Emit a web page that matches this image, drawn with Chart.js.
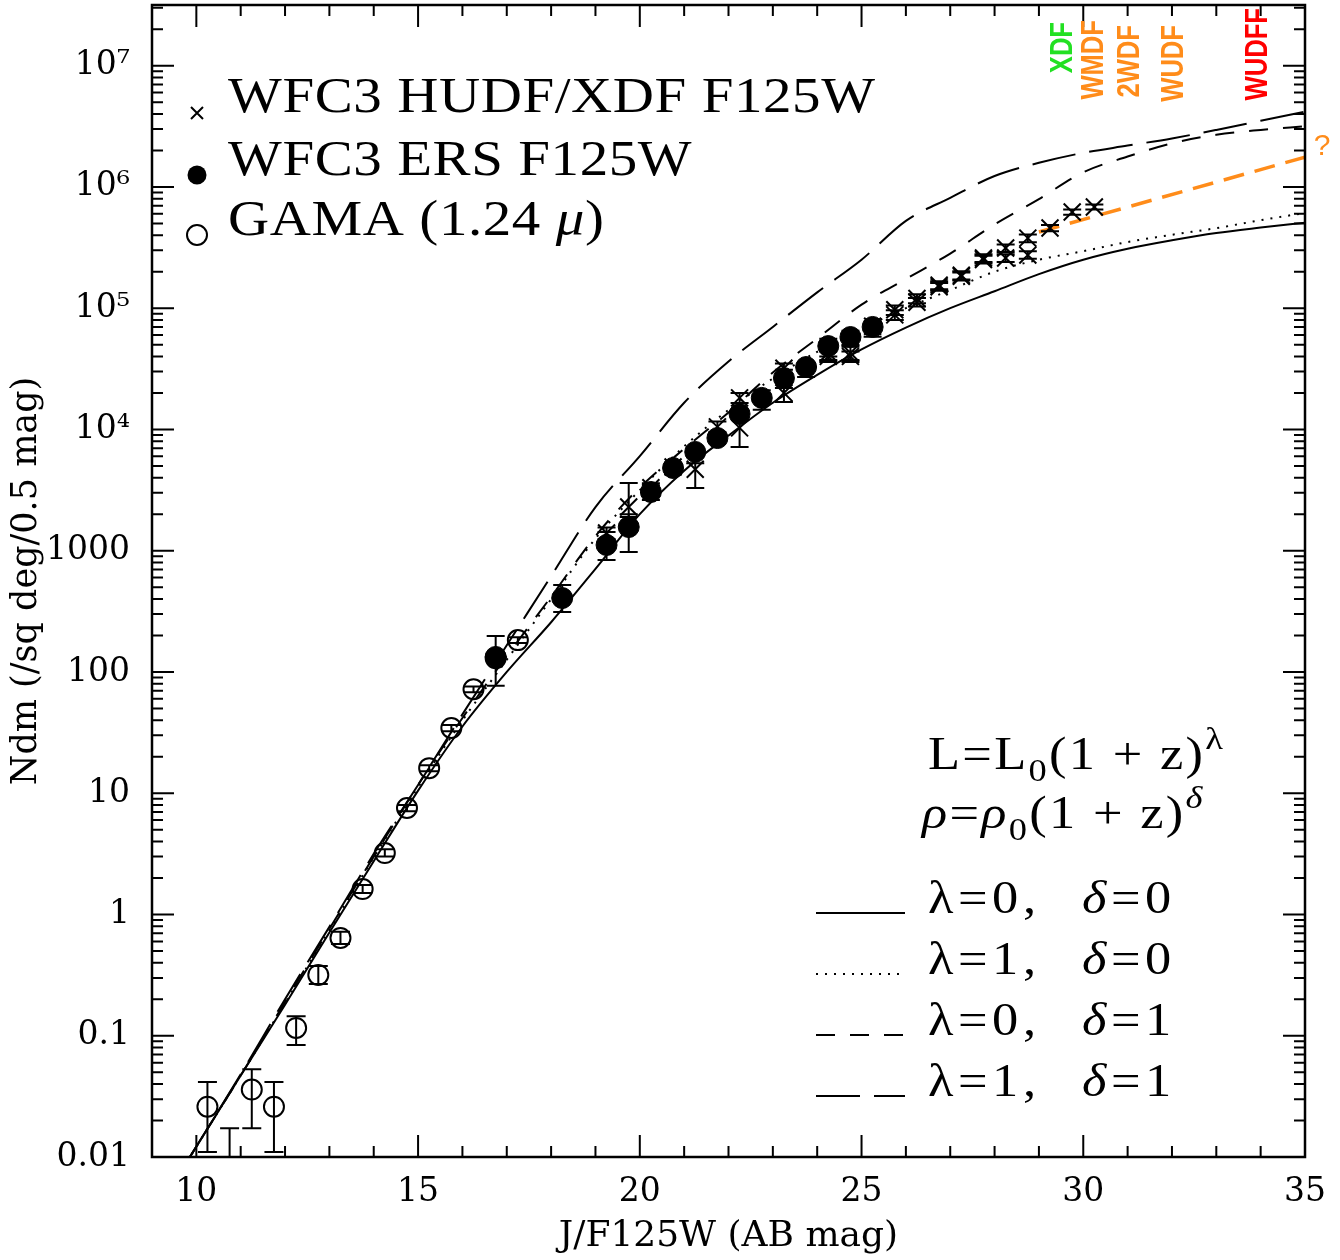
<!DOCTYPE html>
<html lang="en">
<head>
<meta charset="utf-8" />
<title>Galaxy counts in J / F125W</title>
<style>
  * { margin: 0; padding: 0; }
  body { background: #fff; }
  .chartBox { width: 1340px; height: 1260px; }
</style>
</head>
<body>
<div class="chartBox"><canvas id="countsChart" width="1340" height="1260"></canvas></div>

<script src="https://cdn.jsdelivr.net/npm/chart.js"></script>
<script>
// ---- data ----
// GAMA (1.24 micron), open circles
const gamaMag = [10.25, 10.75, 11.25, 11.75, 12.25, 12.75, 13.25, 13.75, 14.25, 14.75, 15.25, 15.75, 16.25, 16.75, 17.25];
const gamaN   = [0.026, 0.004, 0.036, 0.026, 0.116, 0.317, 0.64, 1.62, 3.21, 7.55, 16.1, 34.5, 72, 130, 183];
const gamaLo  = [0.011, 0.001, 0.0173, 0.011, 0.084, 0.267, 0.57, 1.5, 3.0, 7.1, 15.2, 32.5, 68, 122, 173];
const gamaHi  = [0.0415, 0.0173, 0.053, 0.0415, 0.145, 0.376, 0.72, 1.75, 3.45, 8.0, 17.0, 36.5, 76, 138, 193];

// WFC3 ERS F125W, filled circles
const ersMag = [16.75, 18.25, 19.25, 19.75, 20.25, 20.75, 21.25, 21.75, 22.25, 22.75, 23.25, 23.75, 24.25, 24.75, 25.25];
const ersN   = [133, 407, 1114, 1567, 3050, 4810, 6520, 8490, 13400, 18200, 26500, 32700, 48700, 57800, 70000];
const ersLo  = [77, 312, 838, 975, 2620, 4300, 5900, 7700, 12200, 14500, 22000, 27000, 40000, 50000, 58000];
const ersHi  = [198, 521, 1425, 2000, 3470, 5300, 7200, 9300, 14700, 21000, 31000, 36000, 56000, 65000, 78000];

// WFC3 HUDF / XDF F125W, crosses (two fields)
const hudfMag = [19.25, 19.75, 20.25, 20.75, 21.25, 21.75, 22.25, 23.25, 24.25, 24.75, 25.25, 25.75, 26.25, 26.75, 27.25, 27.75, 28.25, 28.75, 29.25, 29.75, 30.25];
const hudfN   = [1400, 2290, 3300, 4900, 4700, 10500, 18200, 32000, 42700, 42700, 71000, 97000, 120000, 155000, 187000, 259000, 313000, 378000, 458000, 621000, 682000];
const hudfLo  = [1250, 1900, 3000, 4500, 3290, 9500, 16500, 29000, 37300, 37300, 65000, 88000, 110000, 143000, 172000, 240000, 290000, 350000, 430000, 590000, 650000];
const hudfHi  = [1550, 3610, 3600, 5300, 5250, 11600, 20000, 35000, 48000, 48000, 77000, 105000, 130000, 167000, 202000, 278000, 335000, 405000, 485000, 652000, 715000];

const xdfMag = [22.25, 23.25, 24.25, 24.75, 25.75, 26.25, 26.75, 27.25, 27.75, 28.25, 28.75];
const xdfN   = [10300, 20000, 40000, 40000, 88000, 112000, 150000, 183000, 252000, 259000, 274000];
const xdfLo  = [7160, 16800, 36000, 36000, 80000, 103000, 139000, 169000, 233000, 240000, 255000];
const xdfHi  = [14500, 24000, 44000, 44000, 96000, 121000, 161000, 197000, 271000, 278000, 295000];

// model counts: L = L0 (1+z)^lambda, rho = rho0 (1+z)^delta
const modelMag = [9.8, 11, 12, 13, 14, 15, 16, 17, 18, 19, 20, 21, 22, 23, 24, 25, 26, 27, 28, 29, 30, 31, 32, 33, 34, 35];
const noEvol   = [0.0093, 0.047, 0.18, 0.71, 2.75, 10.5, 35.5, 100, 257, 708, 2000, 4570, 8900, 16600, 28200, 45700, 69200, 100000, 138000, 191000, 251000, 309000, 363000, 417000, 462000, 507000];
const lumEvol  = [0.0093, 0.047, 0.186, 0.74, 2.95, 11.2, 39.8, 126, 398, 1260, 3160, 7240, 14500, 26300, 43700, 67600, 100000, 141000, 200000, 251000, 295000, 351000, 403000, 457000, 531000, 610000];
const denEvol  = [0.0093, 0.047, 0.19, 0.76, 3.0, 11.7, 41.7, 135, 417, 1320, 3310, 6920, 13800, 29500, 56200, 107000, 174000, 282000, 490000, 794000, 1320000, 1780000, 2290000, 2690000, 2950000, 3160000];
const bothEvol = [0.0093, 0.048, 0.2, 0.79, 3.16, 11.7, 44.7, 166, 617, 2290, 6030, 16600, 36300, 70000, 135000, 251000, 525000, 813000, 1230000, 1580000, 1910000, 2190000, 2510000, 2950000, 3510000, 4170000];

// extrapolation to the deep fields (orange)
const extrapMag = [29.0, 35.0];
const extrapN   = [425000, 1760000];

// survey depth tags along the top
const tagNames = ['XDF', 'WMDF', '2WDF', 'WUDF', 'WUDFF'];
const tagMag   = [29.55, 30.25, 31.05, 32.05, 33.95];

// axis ticks
const xTickVals = [10, 15, 20, 25, 30, 35];
const yTickVals = [0.01, 0.1, 1, 10, 100, 1000, 1e4, 1e5, 1e6, 1e7];
const yTickLabels = ['0.01', '0.1', '1', '10', '100', '1000', '10\u2074', '10\u2075', '10\u2076', '10\u2077'];

const toXY = (xs, ys) => xs.map((x, i) => ({ x: x, y: ys[i] }));

const ORANGE = '#ff8c1a';
const tagColors = ['#22e022', ORANGE, ORANGE, ORANGE, '#ff0000'];

const LONG_DASH = [44, 14];
const SHORT_DASH = [19, 15];
const DOTS = [2, 7];

// error bars on the point datasets
const errorBars = {
  id: 'errorBars',
  afterDatasetsDraw(chart) {
    const { ctx, chartArea: a, scales: { x, y } } = chart;
    ctx.save();
    ctx.beginPath();
    ctx.rect(a.left, a.top, a.width, a.height);
    ctx.clip();
    ctx.strokeStyle = '#000';
    ctx.lineWidth = 2;
    chart.data.datasets.forEach((ds) => {
      if (!ds.errLo) return;
      ds.data.forEach((p, i) => {
        const px = x.getPixelForValue(p.x);
        const lo = y.getPixelForValue(ds.errLo[i]);
        const hi = y.getPixelForValue(ds.errHi[i]);
        const c = ds.capHalf;
        ctx.beginPath();
        ctx.moveTo(px, lo); ctx.lineTo(px, hi);
        ctx.moveTo(px - c, lo); ctx.lineTo(px + c, lo);
        ctx.moveTo(px - c, hi); ctx.lineTo(px + c, hi);
        ctx.stroke();
      });
    });
    ctx.restore();
  },
};

// box around the plot, inward ticks on all four sides
const frameTicks = {
  id: 'frameTicks',
  afterDraw(chart) {
    const { ctx, chartArea: a, scales: { x, y } } = chart;
    ctx.save();
    ctx.strokeStyle = '#000';
    ctx.lineWidth = 2;
    ctx.beginPath();
    for (let m = Math.ceil(x.min); m <= x.max; m++) {
      const px = x.getPixelForValue(m);
      const len = m % 5 === 0 ? 22 : 11;
      ctx.moveTo(px, a.bottom); ctx.lineTo(px, a.bottom - len);
      ctx.moveTo(px, a.top); ctx.lineTo(px, a.top + len);
    }
    for (let d = -2; d <= 7; d++) {
      for (let k = 1; k <= 9; k++) {
        const v = k * Math.pow(10, d);
        if (v > y.max) break;
        const py = y.getPixelForValue(v);
        const len = k === 1 ? 22 : 11;
        ctx.moveTo(a.left, py); ctx.lineTo(a.left + len, py);
        ctx.moveTo(a.right, py); ctx.lineTo(a.right - len, py);
      }
    }
    ctx.stroke();
    ctx.lineWidth = 2.5;
    ctx.strokeRect(a.left, a.top, a.width, a.height);
    ctx.restore();
  },
};

// draws a list of text pieces one after another, glyphs stretched by sx
function drawRuns(ctx, x, y, runs, spacing, sx) {
  ctx.save();
  ctx.translate(x, y);
  ctx.scale(sx, 1);
  ctx.letterSpacing = spacing + 'px';
  let cx = 0;
  runs.forEach((r) => {
    ctx.font = r.font;
    ctx.fillText(r.t, cx, r.dy || 0);
    cx += ctx.measureText(r.t).width;
  });
  ctx.restore();
  return x + cx * sx;
}

const SERIF = '"Liberation Serif", serif';
const STRETCH = 1.14;

const legendText = {
  id: 'legendText',
  afterDraw(chart) {
    const { ctx, chartArea: a, scales: { x, y } } = chart;
    ctx.save();
    ctx.fillStyle = '#000';
    ctx.strokeStyle = '#000';
    ctx.textBaseline = 'alphabetic';
    ctx.textAlign = 'left';

    // --- data legend, top left ---
    const big = '50px ' + SERIF;
    ctx.font = big;
    const first = 'WFC3 HUDF/XDF F125W';
    const spacing = (647 / STRETCH - ctx.measureText(first).width) / (first.length - 1);
    const mx = a.left + 45;
    const tx = a.left + 76;
    const rows = [a.top + 107, a.top + 170, a.top + 230];

    ctx.lineWidth = 2;
    ctx.beginPath();
    ctx.moveTo(mx - 6, rows[0] + 1 - 6); ctx.lineTo(mx + 6, rows[0] + 1 + 6);
    ctx.moveTo(mx - 6, rows[0] + 1 + 6); ctx.lineTo(mx + 6, rows[0] + 1 - 6);
    ctx.stroke();
    ctx.beginPath();
    ctx.arc(mx, rows[1], 9.5, 0, Math.PI * 2);
    ctx.fill();
    ctx.beginPath();
    ctx.arc(mx, rows[2], 10, 0, Math.PI * 2);
    ctx.stroke();

    drawRuns(ctx, tx, rows[0], [{ t: first, font: big }], spacing, STRETCH);
    drawRuns(ctx, tx, rows[1], [{ t: 'WFC3 ERS F125W', font: big }], spacing, STRETCH);
    drawRuns(ctx, tx, rows[2], [
      { t: 'GAMA (1.24 ', font: big },
      { t: '\u03bc', font: 'italic 50px ' + SERIF },
      { t: ')', font: big },
    ], spacing, STRETCH);

    // --- model legend, lower right ---
    const mid = '46px ' + SERIF;
    const ital = 'italic 46px ' + SERIF;
    const sub = '32px ' + SERIF;
    const lx = a.right - 377;
    drawRuns(ctx, lx, a.top + 764, [
      { t: 'L=L', font: mid },
      { t: '0', font: sub, dy: 12 },
      { t: '(1 + z)', font: mid },
      { t: '\u03bb', font: sub, dy: -20 },
    ], 2, STRETCH);
    drawRuns(ctx, lx - 6, a.top + 823, [
      { t: '\u03c1', font: ital },
      { t: '=', font: mid },
      { t: '\u03c1', font: ital },
      { t: '0', font: sub, dy: 12 },
      { t: '(1 + z)', font: mid },
      { t: '\u03b4', font: 'italic 32px ' + SERIF, dy: -20 },
    ], 2, STRETCH);

    const lamDel = [['0', '0'], ['1', '0'], ['0', '1'], ['1', '1']];
    const dashes = [[], DOTS, SHORT_DASH, LONG_DASH];
    lamDel.forEach((ld, i) => {
      const by = a.top + 908 + i * 61;
      ctx.save();
      ctx.lineWidth = 2;
      ctx.setLineDash(dashes[i]);
      ctx.beginPath();
      ctx.moveTo(a.right - 489, by);
      ctx.lineTo(a.right - 400, by);
      ctx.stroke();
      ctx.restore();
      drawRuns(ctx, lx, by, [{ t: '\u03bb=' + ld[0] + ',', font: mid }], 4, STRETCH);
      drawRuns(ctx, lx + 154, by, [
        { t: '\u03b4', font: ital },
        { t: '=' + ld[1], font: mid },
      ], 4, STRETCH);
    });

    // --- survey depth tags, rotated ---
    const tagTop = [a.top + 17, a.top + 15, a.top + 20, a.top + 20, a.top + 3];
    tagNames.forEach((name, i) => {
      ctx.save();
      ctx.translate(x.getPixelForValue(tagMag[i]), tagTop[i]);
      ctx.rotate(-Math.PI / 2);
      ctx.scale(0.8, 1);
      ctx.font = 'bold 32px "Liberation Sans", sans-serif';
      ctx.fillStyle = tagColors[i];
      ctx.textAlign = 'right';
      ctx.textBaseline = 'middle';
      ctx.fillText(name, 0, 0);
      ctx.restore();
    });

    // question mark at the end of the extrapolation
    ctx.font = '30px "Liberation Sans", sans-serif';
    ctx.fillStyle = ORANGE;
    ctx.textAlign = 'center';
    ctx.textBaseline = 'middle';
    const last = extrapN.length - 1;
    ctx.fillText('?', x.getPixelForValue(extrapMag[last]) + 17, y.getPixelForValue(extrapN[last]) - 10);
    ctx.restore();
  },
};

const modelLine = (data, dash) => ({
  type: 'line',
  data: data,
  showLine: true,
  borderColor: '#000',
  borderWidth: 2,
  borderDash: dash,
  pointRadius: 0,
  fill: false,
  cubicInterpolationMode: 'monotone',
});

const config = {
  type: 'scatter',
  data: {
    datasets: [
      {
        label: 'WFC3 ERS F125W',
        data: toXY(ersMag, ersN),
        errLo: ersLo, errHi: ersHi, capHalf: 9,
        pointStyle: 'circle', pointRadius: 10.5,
        backgroundColor: '#000', borderColor: '#000', borderWidth: 1,
      },
      {
        label: 'WFC3 HUDF F125W',
        data: toXY(hudfMag, hudfN),
        errLo: hudfLo, errHi: hudfHi, capHalf: 9,
        pointStyle: 'crossRot', pointRadius: 12,
        borderColor: '#000', borderWidth: 2,
      },
      {
        label: 'WFC3 XDF F125W',
        data: toXY(xdfMag, xdfN),
        errLo: xdfLo, errHi: xdfHi, capHalf: 9,
        pointStyle: 'crossRot', pointRadius: 12,
        borderColor: '#000', borderWidth: 2,
      },
      {
        label: 'GAMA (1.24 \u03bc)',
        data: toXY(gamaMag, gamaN),
        errLo: gamaLo, errHi: gamaHi, capHalf: 9.5,
        pointStyle: 'circle', pointRadius: 10,
        backgroundColor: 'rgba(0,0,0,0)', borderColor: '#000', borderWidth: 2,
      },
      {
        type: 'line',
        label: 'extrapolation',
        data: toXY(extrapMag, extrapN),
        showLine: true, borderColor: ORANGE, borderWidth: 3.5,
        borderDash: [21, 11], pointRadius: 0, fill: false,
      },
      Object.assign(modelLine(toXY(modelMag, noEvol), []), { label: 'lambda=0, delta=0' }),
      Object.assign(modelLine(toXY(modelMag, lumEvol), DOTS), { label: 'lambda=1, delta=0' }),
      Object.assign(modelLine(toXY(modelMag, denEvol), SHORT_DASH), { label: 'lambda=0, delta=1' }),
      Object.assign(modelLine(toXY(modelMag, bothEvol), LONG_DASH), { label: 'lambda=1, delta=1' }),
    ],
  },
  options: {
    responsive: false,
    animation: false,
    devicePixelRatio: 1,
    layout: { autoPadding: false, padding: { top: 5, right: 35, left: 0, bottom: 0 } },
    plugins: {
      legend: { display: false },
      tooltip: { enabled: false },
    },
    scales: {
      x: {
        type: 'linear',
        min: 9,
        max: 35,
        grid: { display: false, drawTicks: false },
        border: { display: false },
        afterBuildTicks: (scale) => { scale.ticks = xTickVals.map((v) => ({ value: v })); },
        afterFit: (scale) => {
          scale.height = 103;
          scale.paddingLeft = 0;
          scale.paddingRight = 0;
        },
        ticks: {
          autoSkip: false,
          maxRotation: 0,
          padding: 16,
          color: '#000',
          font: { family: 'DejaVu Serif', size: 33 },
        },
        title: {
          display: true,
          text: 'J/F125W (AB mag)',
          color: '#000',
          font: { family: 'DejaVu Serif', size: 36 },
          padding: { top: 0, bottom: 2 },
        },
      },
      y: {
        type: 'logarithmic',
        min: 0.01,
        max: 31622777,
        grid: { display: false, drawTicks: false },
        border: { display: false },
        afterBuildTicks: (scale) => { scale.ticks = yTickVals.map((v) => ({ value: v })); },
        afterFit: (scale) => {
          scale.width = 152;
          scale.paddingTop = 0;
          scale.paddingBottom = 0;
        },
        ticks: {
          autoSkip: false,
          padding: 22,
          color: '#000',
          font: { family: 'DejaVu Serif', size: 33 },
          callback: (v) => {
            const i = yTickVals.findIndex((t) => Math.abs(t - v) / t < 1e-6);
            return i >= 0 ? yTickLabels[i] : '';
          },
        },
        title: {
          display: true,
          text: 'Ndm (/sq deg/0.5 mag)',
          color: '#000',
          font: { family: 'DejaVu Serif', size: 35 },
          padding: { top: 6, bottom: 0 },
        },
      },
    },
  },
  plugins: [errorBars, frameTicks, legendText],
};

const countsChart = new Chart(document.getElementById('countsChart'), config);
</script>
</body>
</html>
